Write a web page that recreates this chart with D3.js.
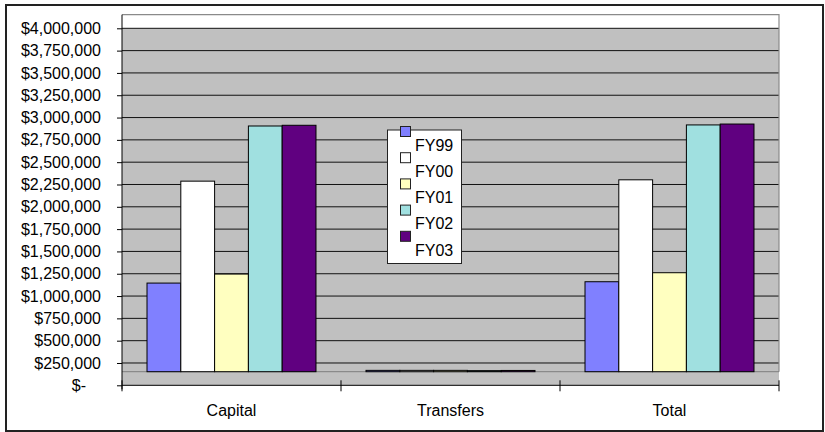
<!DOCTYPE html>
<html>
<head>
<meta charset="utf-8">
<script src="https://cdn.jsdelivr.net/npm/d3@7"></script>
<style>
  html, body { margin: 0; padding: 0; background: #fff; }
  svg { display: block; font-family: "Liberation Sans", Arial, sans-serif; }
</style>
</head>
<body>
<svg id="chart" width="825" height="432"></svg>
<script>
// Expenditure by category, fiscal years FY99–FY03
const categories = ["Capital", "Transfers", "Total"];
const seriesNames = ["FY99", "FY00", "FY01", "FY02", "FY03"];
const seriesColors = ["#8080FF", "#FFFFFF", "#FFFFC0", "#A0E0E0", "#600080"];
const capital   = [993000, 2135000, 1094000, 2753000, 2761000];
const transfers = [15000, 15000, 15000, 12000, 14000];
const total     = [1008000, 2150000, 1109000, 2765000, 2775000];
const yTicks = [0, 250000, 500000, 750000, 1000000, 1250000, 1500000, 1750000,
                2000000, 2250000, 2500000, 2750000, 3000000, 3250000, 3500000,
                3750000, 4000000];

const valuesByCategory = { Capital: capital, Transfers: transfers, Total: total };

const svg = d3.select("#chart");

// Outer chart frame
svg.append("rect")
  .attr("x", 6).attr("y", 5).attr("width", 817).attr("height", 426)
  .attr("fill", "#fff").attr("stroke", "#222").attr("stroke-width", 2);

// Plot geometry
const left = 122, right = 779;
const depth = 13.6; // vertical offset between front axis and back wall

// Front scale (axis + gridlines) and back scale (bars stand on the back floor edge)
const yFront = d3.scaleLinear().domain([0, 4000000]).range([385.3, 28.3]);
const yBack  = d3.scaleLinear().domain([0, 4000000]).range([385.3 - depth, 28.3 - depth]);

const x0 = d3.scaleBand().domain(categories).range([left, right]);
const x1 = d3.scaleBand().domain(seriesNames).range([0, x0.bandwidth()])
  .paddingInner(0).paddingOuter(0.74);
const color = d3.scaleOrdinal().domain(seriesNames).range(seriesColors);

// Back wall
const wallTop = yBack(4000000);
svg.append("rect")
  .attr("x", left).attr("y", wallTop)
  .attr("width", right - left).attr("height", yFront(4000000) - wallTop)
  .attr("fill", "#fff");
svg.append("rect")
  .attr("x", left).attr("y", yFront(4000000))
  .attr("width", right - left).attr("height", yBack(0) - yFront(4000000))
  .attr("fill", "#C0C0C0");

// Gridlines
svg.append("g").selectAll("line")
  .data(yTicks.filter(d => d > 0))
  .join("line")
  .attr("x1", left).attr("x2", right)
  .attr("y1", d => yFront(d)).attr("y2", d => yFront(d))
  .attr("stroke", "#111").attr("stroke-width", 1);

// Wall outline (top and right)
svg.append("path")
  .attr("d", `M${left},${wallTop}H${right}V${yBack(0)}`)
  .attr("fill", "none").attr("stroke", "#8a8a8a").attr("stroke-width", 1.2);

// Floor
svg.append("rect")
  .attr("x", left).attr("y", yBack(0))
  .attr("width", right - left).attr("height", yFront(0) - yBack(0))
  .attr("fill", "#C0C0C0");
svg.append("line")
  .attr("x1", left).attr("x2", right)
  .attr("y1", yBack(0)).attr("y2", yBack(0))
  .attr("stroke", "#7a7a7a").attr("stroke-width", 1);

// Bars
const groups = svg.append("g").selectAll("g")
  .data(categories)
  .join("g")
  .attr("transform", c => `translate(${x0(c)},0)`);

groups.selectAll("rect")
  .data(c => seriesNames.map((s, i) => ({ s, v: valuesByCategory[c][i] })))
  .join("rect")
  .attr("x", d => x1(d.s))
  .attr("width", x1.bandwidth())
  .attr("y", d => yBack(d.v))
  .attr("height", d => yBack(0) - yBack(d.v))
  .attr("fill", d => color(d.s))
  .attr("stroke", "#000").attr("stroke-width", 1);

// Value axis
const yAxis = d3.axisLeft(yFront)
  .tickValues(yTicks)
  .tickSize(5)
  .tickPadding(16)
  .tickFormat(d => d === 0 ? "$-" : "$" + d3.format(",")(d));

const yG = svg.append("g")
  .attr("transform", `translate(${left},0)`)
  .call(yAxis);
yG.select(".domain").remove();
yG.append("line")
  .attr("x1", 0).attr("x2", 0)
  .attr("y1", wallTop).attr("y2", yFront(0) + 4)
  .attr("stroke", "#000");
yG.selectAll(".tick line").attr("stroke", "#000");
yG.selectAll(".tick text")
  .attr("fill", "#000")
  .style("font-size", "16px")
  .attr("x", d => d === 0 ? -36 : -21);

// Category axis
const xG = svg.append("g");
xG.append("line")
  .attr("x1", left).attr("x2", right)
  .attr("y1", yFront(0)).attr("y2", yFront(0))
  .attr("stroke", "#000");
const boundaries = categories.map(c => x0(c)).concat([right]);
xG.selectAll("line.tick")
  .data(boundaries)
  .join("line")
  .attr("class", "tick")
  .attr("x1", d => d).attr("x2", d => d)
  .attr("y1", yFront(0) - 5).attr("y2", yFront(0) + 6)
  .attr("stroke", "#000");
xG.selectAll("text")
  .data(categories)
  .join("text")
  .attr("x", c => x0(c) + x0.bandwidth() / 2)
  .attr("y", 416)
  .attr("text-anchor", "middle")
  .style("font-size", "16px")
  .attr("fill", "#000")
  .text(c => c);

// Legend
const legend = svg.append("g");
legend.append("rect")
  .attr("x", 387.5).attr("y", 130)
  .attr("width", 74).attr("height", 133.5)
  .attr("fill", "#fff").attr("stroke", "#222").attr("stroke-width", 1);
const items = legend.selectAll("g.item")
  .data(seriesNames)
  .join("g")
  .attr("class", "item")
  .attr("transform", (d, i) => `translate(0,${i * 26.2})`);
items.append("rect")
  .attr("x", 400.5).attr("y", 126.5)
  .attr("width", 10).attr("height", 10)
  .attr("fill", d => color(d))
  .attr("stroke", "#222").attr("stroke-width", 1);
items.append("text")
  .attr("x", 415).attr("y", 150.8)
  .style("font-size", "16px")
  .attr("fill", "#000")
  .text(d => d);
</script>
</body>
</html>
